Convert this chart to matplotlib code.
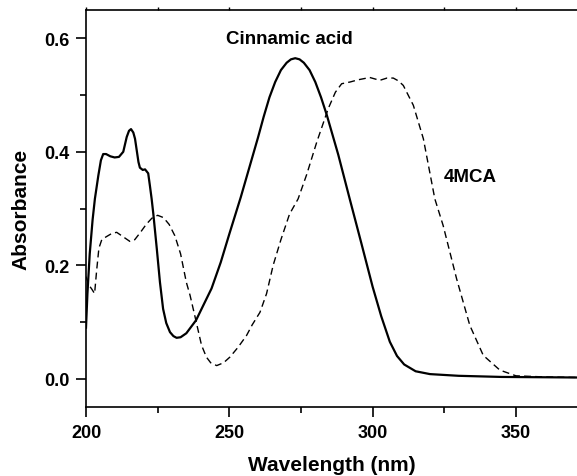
import matplotlib
matplotlib.use("Agg")
import matplotlib.pyplot as plt
from matplotlib.ticker import MultipleLocator, FormatStrFormatter

plt.rcParams['font.family'] = ['Liberation Sans', 'DejaVu Sans']
plt.rcParams['font.weight'] = 'bold'

# Cinnamic acid (solid)
ca_wl = [200, 200.5, 201.3, 202.3, 203.1, 204.3, 205.2, 206, 207, 208.5, 210, 211.5, 213,
         214.2, 215, 215.7, 216.5, 217.1, 218.3, 218.8, 219.8, 220.6, 221.7, 222.3, 222.9,
         223.5, 224.7, 225.8, 226.9, 228, 229.3, 230.5, 231.6, 233, 235, 238.4, 241,
         243.8, 247, 250, 254, 258, 260, 262, 264, 266, 268, 270, 271.5, 273, 274.5,
         276, 278, 280, 282, 284, 286, 288, 290, 292, 296, 300, 303, 306, 308.5, 311,
         315, 320, 330, 345, 372]
ca_abs = [0.09, 0.15, 0.22, 0.28, 0.317, 0.358, 0.385, 0.396, 0.396, 0.392, 0.39, 0.391, 0.40,
          0.426, 0.437, 0.44, 0.434, 0.423, 0.382, 0.372, 0.368, 0.369, 0.362, 0.34, 0.317,
          0.29, 0.229, 0.17, 0.123, 0.098, 0.082, 0.075, 0.072, 0.073, 0.08, 0.103, 0.13,
          0.159, 0.205, 0.255, 0.32, 0.39, 0.425, 0.462, 0.496, 0.523, 0.544, 0.557, 0.563, 0.565, 0.563,
          0.557, 0.544, 0.523, 0.496, 0.465, 0.43, 0.395, 0.356, 0.317, 0.24, 0.162, 0.11, 0.065, 0.04, 0.025,
          0.013, 0.008, 0.005, 0.003, 0.002]

# 4MCA (dashed)
mca_wl = [200, 201, 202, 203, 203.7, 204.5, 205.5, 207, 209, 210.7, 213, 215.3, 217,
          219, 221, 223, 225, 227, 229, 231, 233, 235, 236.3, 238, 240.3, 242, 243.5,
          245.6, 248, 250.2, 253, 256, 258, 260.7, 263, 265.3, 268, 271, 274, 277,
          280.5, 284.5, 287, 289.2, 292.1, 295, 299, 302.5, 305, 307.2, 309, 310.7,
          314.2, 317.7, 321.7, 324.6, 329.3, 333.9, 338.6, 344.4, 350, 360, 372]
mca_abs = [0.18, 0.165, 0.158, 0.15, 0.19, 0.23, 0.245, 0.25, 0.256, 0.258, 0.25, 0.242, 0.245,
           0.258, 0.272, 0.283, 0.288, 0.284, 0.272, 0.252, 0.22, 0.17, 0.147, 0.11, 0.059, 0.038, 0.028,
           0.023, 0.028, 0.038, 0.055, 0.076, 0.095, 0.117, 0.15, 0.2, 0.245, 0.29, 0.317, 0.36,
           0.417, 0.476, 0.505, 0.52, 0.523, 0.527, 0.531, 0.526, 0.53, 0.53, 0.525, 0.517,
           0.482, 0.423, 0.317, 0.27, 0.176, 0.094, 0.041, 0.015, 0.005, 0.003, 0.002]

fig = plt.figure(figsize=(5.77, 4.77), dpi=100)
ax = fig.add_axes([86/577, 1 - 408/477, 1 - 86/577, (408 - 11)/477])

ax.plot(ca_wl, ca_abs, color='black', lw=1.6, solid_joinstyle='round')
ax.plot(mca_wl, mca_abs, color='black', lw=1.0, linestyle=(0, (5, 3)))

ax.set_xlim(200, 371.3)
ax.set_ylim(-0.05, 0.65)
ax.xaxis.set_major_locator(MultipleLocator(50))
ax.xaxis.set_minor_locator(MultipleLocator(25))
ax.yaxis.set_major_locator(MultipleLocator(0.2))
ax.yaxis.set_minor_locator(MultipleLocator(0.1))
ax.yaxis.set_major_formatter(FormatStrFormatter('%.1f'))

ax.spines['right'].set_visible(False)
for s in ['left', 'bottom', 'top']:
    ax.spines[s].set_linewidth(1.2)
ax.tick_params(which='major', direction='out', length=7, width=1.2, labelsize=13, pad=5)
ax.tick_params(which='minor', direction='out', length=4, width=1.2)
ax.tick_params(axis='x', which='major', pad=5)

# small ticks along the top edge
top = ax.secondary_xaxis('top')
top.xaxis.set_major_locator(MultipleLocator(25))
top.tick_params(which='major', direction='out', length=2, width=1.0, labeltop=False)
top.spines['top'].set_visible(False)

ax.set_xlabel('Wavelength (nm)', fontsize=15, fontweight='bold', labelpad=10)
ax.set_ylabel('Absorbance', fontsize=15, fontweight='bold', labelpad=10)

ax.text(271, 0.599, 'Cinnamic acid', fontsize=13.5, fontweight='bold', ha='center', va='center')
ax.text(334, 0.356, '4MCA', fontsize=13.5, fontweight='bold', ha='center', va='center')

fig.savefig('out.png', dpi=100)
